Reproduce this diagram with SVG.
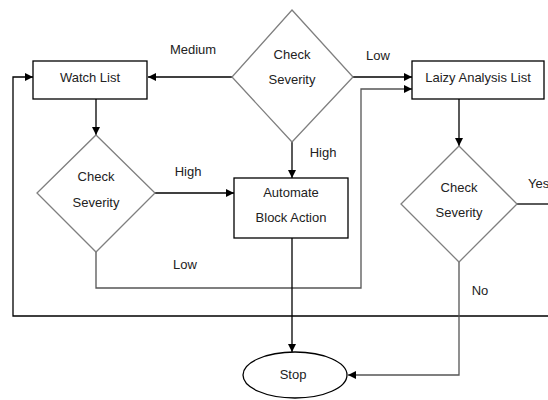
<svg xmlns="http://www.w3.org/2000/svg" width="548" height="400" viewBox="0 0 548 400">
  <style>
    .box { fill: #fff; stroke: #000; stroke-width: 1.3; }
    .dia { fill: #fff; stroke: #7f7f7f; stroke-width: 1.3; }
    .ln { fill: none; stroke: #000; stroke-width: 1.3; }
    .lg { fill: none; stroke: #555; stroke-width: 1.3; }
    text { font-family: "Liberation Sans", Arial, sans-serif; font-size: 13px; fill: #222; text-anchor: middle; }
  </style>
  <defs>
    <marker id="ah" viewBox="0 0 10 10" refX="10" refY="5" markerWidth="8" markerHeight="8" markerUnits="userSpaceOnUse" orient="auto">
      <path d="M0,0 L10,5 L0,10 z" fill="#000"/>
    </marker>
  </defs>

  <g id="connectors">
    <line class="ln" x1="232" y1="77" x2="148" y2="77" marker-end="url(#ah)"/>
    <line class="ln" x1="353" y1="77" x2="412" y2="77" marker-end="url(#ah)"/>
    <line class="ln" x1="96" y1="99" x2="96" y2="135" marker-end="url(#ah)"/>
    <line class="ln" x1="155" y1="193" x2="234" y2="193" marker-end="url(#ah)"/>
    <line class="ln" x1="292" y1="142" x2="292" y2="178" marker-end="url(#ah)"/>
    <polyline class="lg" points="96,252 96,288 361,288 361,89 412,89" marker-end="url(#ah)"/>
    <polyline class="ln" points="548,316 13,316 13,77 33,77" marker-end="url(#ah)"/>
    <line class="ln" x1="459" y1="99" x2="459" y2="146" marker-end="url(#ah)"/>
    <line class="ln" x1="517" y1="204" x2="548" y2="204"/>
    <polyline class="lg" points="459,262 459,375 348,375" marker-end="url(#ah)"/>
    <line class="ln" x1="292" y1="238" x2="292" y2="352" marker-end="url(#ah)"/>
    <text x="193" y="54">Medium</text>
    <text x="378" y="60">Low</text>
    <text x="188" y="176">High</text>
    <text x="323" y="157">High</text>
    <text x="185" y="269">Low</text>
    <text x="480" y="295">No</text>
    <text x="528" y="188" style="text-anchor:start">Yes</text>
  </g>

  <g id="watch-list">
    <rect class="box" x="33" y="61" width="114" height="38"/>
    <text x="90" y="82">Watch List</text>
  </g>

  <g id="check-severity-top">
    <polygon class="dia" points="292,10 353,77 292,142 232,77"/>
    <text x="292" y="59">Check</text>
    <text x="292" y="84">Severity</text>
  </g>

  <g id="laizy-analysis-list">
    <rect class="box" x="412" y="61" width="132" height="38"/>
    <text x="478" y="82">Laizy Analysis List</text>
  </g>

  <g id="check-severity-left">
    <polygon class="dia" points="96,135 155,193 96,252 37,193"/>
    <text x="96" y="181">Check</text>
    <text x="96" y="207">Severity</text>
  </g>

  <g id="automate-block-action">
    <rect class="box" x="234" y="178" width="114" height="60"/>
    <text x="291" y="197">Automate</text>
    <text x="291" y="222">Block Action</text>
  </g>

  <g id="check-severity-right">
    <polygon class="dia" points="459,146 517,204 459,262 401,204"/>
    <text x="459" y="192">Check</text>
    <text x="459" y="217">Severity</text>
  </g>

  <g id="stop">
    <ellipse class="box" cx="295" cy="375" rx="52" ry="23"/>
    <text x="293" y="379">Stop</text>
  </g>
</svg>
